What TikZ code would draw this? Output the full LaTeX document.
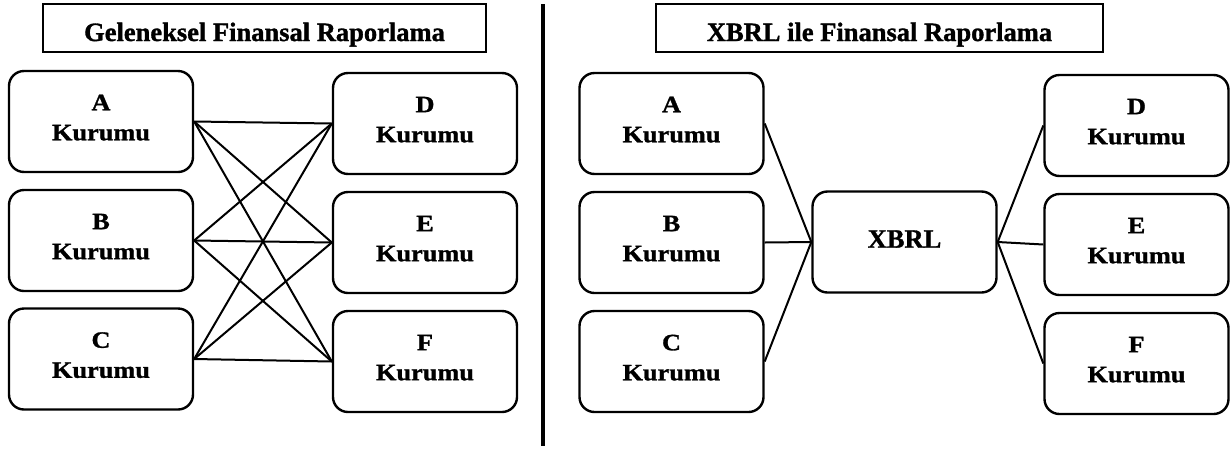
\documentclass[tikz,border=0pt]{standalone}
\usepackage{fontspec}
\setmainfont{Liberation Serif}
\newfontfamily\heavyfont{Liberation Serif Bold}[FakeBold=1.2]
\newfontfamily\heavywidefont{Liberation Serif Bold}[FakeStretch=1.12,FakeBold=1.2]
\begin{document}
\begin{tikzpicture}[x=1pt,y=-1pt,
  org/.style={draw,line width=2.4pt,rounded corners=15pt,minimum width=184pt,
    minimum height=101pt,align=center,inner sep=0pt,text depth=8pt,
    font=\heavywidefont\fontsize{23.5}{30}\selectfont},
  hub/.style={org,text depth=6pt,font=\heavyfont\fontsize{26.5}{31}\selectfont},
  titlebox/.style={draw,line width=2.4pt,minimum width=443pt,minimum height=48pt,
    inner sep=0pt},
  titletext/.style={anchor=base,inner sep=0pt,
    font=\heavyfont\fontsize{26.5}{31}\selectfont},
  link/.style={line width=2pt}]
\useasboundingbox (0,0) rectangle (1231,448);

% ---- traditional reporting: every institution linked to every other ----
\node[titlebox] (t1) at (264.5,28) {};
\node[titletext] (t1text) at (264.5,41) {Geleneksel Finansal Raporlama};
\node[org] (a1) at (101,121.5) {A\\Kurumu};
\node[org] (b1) at (101,240.5) {B\\Kurumu};
\node[org] (c1) at (101,359) {C\\Kurumu};
\node[org] (d1) at (425,123.5) {D\\Kurumu};
\node[org] (e1) at (425,242.5) {E\\Kurumu};
\node[org] (f1) at (425,361.5) {F\\Kurumu};
\foreach \s in {a1,b1,c1}
  \foreach \t in {d1,e1,f1}
    \draw[link] (\s.east) -- (\t.west);

% ---- separator ----
\coordinate (top) at (543,4);
\coordinate (bot) at (543,446);
\draw[line width=4pt] (top) -- (bot);

% ---- XBRL reporting: all links pass through one hub ----
\node[titlebox,minimum width=447pt] (t2) at (879.5,28) {};
\node[titletext] (t2text) at (879.5,41) {XBRL ile Finansal Raporlama};
\node[org] (a2) at (671.5,123.5) {A\\Kurumu};
\node[org] (b2) at (671.5,242.5) {B\\Kurumu};
\node[org] (c2) at (671.5,361.5) {C\\Kurumu};
\node[hub] (x)  at (904.5,242) {XBRL};
\node[org] (d2) at (1136.5,125.5) {D\\Kurumu};
\node[org] (e2) at (1136.5,244.5) {E\\Kurumu};
\node[org] (f2) at (1136.5,363.5) {F\\Kurumu};
\foreach \s in {a2,b2,c2}
  \draw[link] (\s.east) -- (x.west);
\foreach \t in {d2,e2,f2}
  \draw[link] (x.east) -- (\t.west);
\end{tikzpicture}
\end{document}
